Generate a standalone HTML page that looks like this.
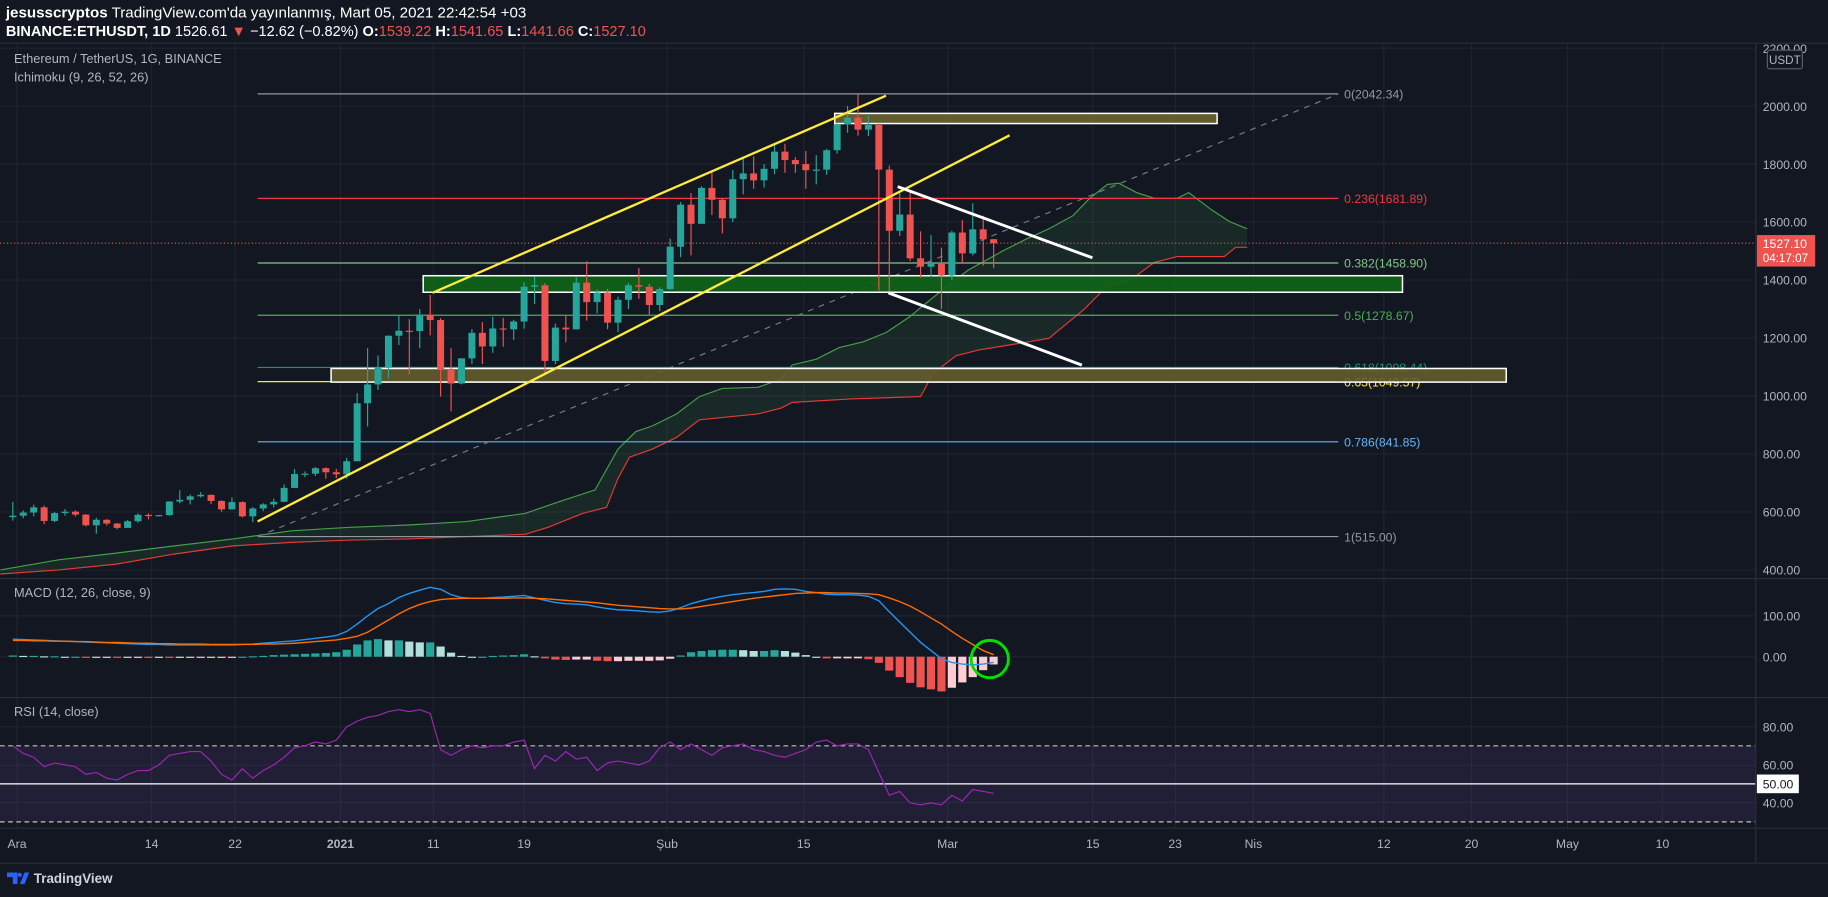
<!DOCTYPE html>
<html><head><meta charset="utf-8"><style>
html,body{margin:0;padding:0;background:#131722;overflow:hidden}
svg{display:block;font-family:"Liberation Sans",sans-serif}
</style></head><body>
<svg id="c" width="1828" height="897" viewBox="0 0 1568 769" preserveAspectRatio="none" xmlns="http://www.w3.org/2000/svg">
<rect x="0" y="0" width="1568" height="769" fill="#131722"/>
<text x="5" y="15" font-size="13" fill="#ffffff"><tspan font-weight="bold">jesusscryptos</tspan> TradingView.com'da yayınlanmış, Mart 05, 2021 22:42:54 +03</text>
<text x="5" y="31" font-size="12.5" fill="#ffffff"><tspan font-weight="bold">BINANCE:ETHUSDT, 1D</tspan> 1526.61 <tspan fill="#ef5350">▼</tspan> −12.62 (−0.82%) <tspan font-weight="bold">O:</tspan><tspan fill="#ef5350">1539.22</tspan> <tspan font-weight="bold">H:</tspan><tspan fill="#ef5350">1541.65</tspan> <tspan font-weight="bold">L:</tspan><tspan fill="#ef5350">1441.66</tspan> <tspan font-weight="bold">C:</tspan><tspan fill="#ef5350">1527.10</tspan></text>
<g id="grid"></g>
<g id="cloud"></g>
<g id="draw"></g>
<g id="candles"></g>
<g id="trend"></g>
<g id="macd"></g>
<g id="rsi"></g>
<g id="axes"></g>
<text x="12" y="54" font-size="11" fill="#b2b5be">Ethereum / TetherUS, 1G, BINANCE</text>
<text x="12" y="70" font-size="11" fill="#b2b5be">Ichimoku (9, 26, 52, 26)</text>
<text x="12" y="512" font-size="11" fill="#b2b5be">MACD (12, 26, close, 9)</text>
<text x="12" y="614" font-size="11" fill="#b2b5be">RSI (14, close)</text>
<g><path d="M6 748h9v10h-4v-6h-5z M17 758l4-10h4l-4 10z" fill="#2962ff"/><circle cx="17" cy="750" r="1.8" fill="#2962ff"/><text x="29" y="757" font-size="11.5" font-weight="bold" fill="#d1d4dc">TradingView</text></g>
</svg>
<script>
const closes=[587,598,616,569,596,601,591,554,573,560,545,568,590,586,589,636,642,654,659,638,609,634,585,612,626,635,683,731,732,751,737,
730,775,975,1040,1100,1208,1225,1224,1281,1262,1090,1043,1130,1218,1171,1233,1230,1257,1377,1382,1121,1236,1230,1391,1324,1357,1253,1332,1382,1377,1314,
1369,1515,1660,1594,1718,1677,1613,1748,1768,1744,1784,1843,1814,1800,1779,1781,1848,1937,1960,1919,1935,1781,1570,1626,1475,1446,1459,1416,
1564,1492,1575,1541,1527];
const highs=[635,605,625,622,600,610,605,592,580,575,562,572,595,595,590,637,675,660,668,660,640,650,637,617,630,646,695,748,740,755,754,
749,787,1010,1165,1140,1209,1279,1265,1300,1349,1269,1165,1130,1231,1255,1273,1270,1263,1393,1412,1390,1250,1277,1410,1465,1368,1370,1343,1390,1441,1387,
1375,1543,1669,1700,1724,1775,1683,1780,1826,1827,1800,1870,1870,1824,1845,1831,1853,1940,2001,2042,1966,1940,1795,1700,1710,1568,1555,1512,
1570,1607,1665,1622,1541];
const lows=[570,578,585,558,565,587,585,550,525,553,540,546,563,574,584,587,630,626,650,627,601,608,581,565,603,616,634,682,720,724,715,
716,715,777,895,1021,1060,1176,1075,1165,1209,998,947,1040,1110,1110,1149,1170,1193,1232,1317,1080,1110,1185,1230,1260,1285,1230,1220,1300,1335,1280,
1293,1367,1479,1485,1600,1624,1561,1600,1696,1715,1719,1765,1770,1770,1715,1730,1763,1836,1908,1898,1897,1364,1353,1552,1466,1408,1410,1300,
1400,1456,1485,1450,1441];
const spanADays=[-1.2,4.4,9.9,15.5,21.1,26.7,32.3,37.9,43.5,49.1,52.4,55.8,58,59.7,61.3,63.6,65.8,68,71.4,73.6,74.7,77,79.2,81.5,83.7,85.9,88.2,91.5,94.9,97.1,99.3,101.6,103.2,104.9,106,107.7,109.4,111.6,112.7,114.9,116.6,118.3];
const spanAVals=[400,435,458,483,507,535,547,555,567,595,636,676,817,877,897,938,998,1026,1030,1058,1107,1127,1167,1187,1219,1272,1340,1433,1501,1541,1577,1622,1682,1730,1734,1702,1682,1682,1702,1642,1602,1577];
const spanBDays=[-1.2,4.4,9.9,15.5,21.1,26.7,32.3,37.9,43.5,49.1,51.3,54.6,56.9,58,59.1,61.3,63.6,65.8,71.4,73.6,74.7,80.3,87,88.2,90.4,92.6,96,99.3,102.7,104.9,107.1,109.4,111.6,116.1,117.2,118.3];
const spanBVals=[386,400,420,455,483,495,503,507,515,523,547,595,616,716,789,817,857,918,938,958,978,990,998,1078,1139,1159,1179,1199,1300,1380,1400,1461,1481,1481,1513,1513];
const macdVals=[43,42,41,40,39,38,37,36,35,34,33,32,31,30,30,29,29,29,29,29,29,29,30,31,33,35,37,39,42,45,48,52,62,80,100,118,130,145,155,163,170,165,152,145,143,143,145,146,148,150,144,138,133,130,129,127,122,118,115,114,112,110,109,112,120,130,137,143,148,152,155,157,160,165,166,165,160,157,153,152,152,151,148,137,110,85,60,35,15,-5,-14,-18,-20,-18,-14];
const signalVals=[40,40,39,39,38,38,37,37,36,35,35,34,33,33,32,32,31,31,31,30,30,30,30,30,31,31,32,33,35,37,39,41,45,50,60,75,90,105,118,128,135,140,142,143,143,143,143,143,144,144,143,142,140,138,136,134,132,129,126,124,122,120,118,117,117,119,123,127,131,135,139,143,146,149,152,155,156,157,157,156,156,155,154,152,144,135,124,110,95,80,62,45,30,15,5];
const rsiVals=[70,66,64,59,61,60,59,55,56,53,52,55,57,57,60,65,66,67,67,62,55,52,58,53,57,60,64,69,70,72,71,73,80,83,85,86,88,89,88,89,87,68,65,68,70,69,70,70,72,73,58,65,62,67,63,64,57,61,62,61,60,62,69,72,68,71,68,65,69,70,71,68,67,65,64,66,68,72,73,70,71,71,68,56,44,46,40,39,40,39,44,41,47,46,45];
const priceTicks=[2000,1800,1600,1400,1200,1000,800,600,400];
const fibLevels=[["0(2042.34)",2042.34,"#9598a1"],["0.236(1681.89)",1681.89,"#f23645"],["0.382(1458.90)",1458.90,"#81c784"],["0.5(1278.67)",1278.67,"#4caf50"],["0.618(1098.44)",1098.44,"#089981"],["0.65(1049.57)",1049.57,"#ffeb3b"],["0.786(841.85)",841.85,"#64b5f6"],["1(515.00)",515,"#9598a1"]];
const timeLabels=[["Ara",0.4],["14",13.3],["22",21.3],["2021",31.4],["11",40.3],["19",49],["Şub",62.7],["15",75.8],["Mar",89.6],["15",103.5],["23",111.4],["Nis",118.9],["12",131.4],["20",139.8],["May",149],["10",158.1]];

const NS="http://www.w3.org/2000/svg";
const X=d=>11+d*8.95;
const Y=p=>91+(2000-p)*0.2485;
const MY=v=>563-v*0.35;
const RY=v=>672-(v-50)*1.63;
function mk(par,tag,at){const e=document.createElementNS(NS,tag);for(const k in at)e.setAttribute(k,at[k]);document.getElementById(par).appendChild(e);return e;}

timeLabels.forEach(t=>{const g=mk('grid','line',{x1:X(t[1]),x2:X(t[1]),y1:37,y2:710,stroke:'#1f2330','stroke-width':1});

});
priceTicks.concat([2200]).forEach(p=>{const g=mk('grid','line',{x1:0,x2:1506,y1:Y(p),y2:Y(p),stroke:'#1f2330'});

});
[528,563,623,656,688].forEach(y=>{const g=mk('grid','line',{x1:0,x2:1506,y1:y,y2:y,stroke:'#1f2330'});

});

const cloudTop=spanADays.map((d,i)=>X(d)+','+Y(spanAVals[i]));
const cloudBot=spanBDays.map((d,i)=>X(d)+','+Y(spanBVals[i]));
const cf=mk('cloud','polygon',{points:cloudTop.concat(cloudBot.slice().reverse()).join(' '),fill:'rgba(76,175,80,0.12)'});


const la=mk('cloud','polyline',{points:cloudTop.join(' '),fill:'none',stroke:'#43a047','stroke-width':1});


const lb=mk('cloud','polyline',{points:cloudBot.join(' '),fill:'none',stroke:'#e53935','stroke-width':1});



fibLevels.forEach(f=>{const y=Y(f[1]);
const l=mk('draw','line',{x1:221,x2:1148,y1:y,y2:y,stroke:f[2],'stroke-width':1});


const t=mk('draw','text',{x:1153,y:y+4,'font-size':10.5,fill:f[2],'text-anchor':'start'});t.textContent=f[0];

});
const dl=mk('draw','line',{x1:221,y1:Y(515),x2:1148,y2:Y(2042),stroke:'#787b86','stroke-dasharray':'5,5'});


[[716,1044,1975,1940,'rgba(110,100,45,0.9)'],[363,1203,1415,1358,'rgba(15,100,25,0.92)'],[284,1292,1095,1048,'rgba(100,92,45,0.9)']].forEach(b=>{
const r=mk('draw','rect',{x:b[0],y:Y(b[2]),width:b[1]-b[0],height:Y(b[3])-Y(b[2]),fill:b[4],stroke:'#ffffff','stroke-width':1.3});

});
const cp=mk('draw','line',{x1:0,x2:1506,y1:Y(1527.1),y2:Y(1527.1),stroke:'#ef5350','stroke-dasharray':'1,2'});



closes.forEach((c,i)=>{const o=i?closes[i-1]:c-5;const up=c>=o;const col=up?'#26a69a':'#ef5350';
const w=mk('candles','line',{x1:X(i),x2:X(i),y1:Y(highs[i]),y2:Y(lows[i]),stroke:col,'stroke-width':1});


const yt=Y(Math.max(o,c)),yb=Y(Math.min(o,c));
const b=mk('candles','rect',{x:X(i)-3,y:yt,width:6,height:Math.max(1,yb-yt),fill:col});

});

[[371,251,760,82,'#ffeb3b',2],[221,447,866,116,'#ffeb3b',2],[770,160,937,221,'#ffffff',2.5],[762,251,928,313,'#ffffff',2.5]].forEach(t=>{
const l=mk('trend','line',{x1:t[0],y1:t[1],x2:t[2],y2:t[3],stroke:t[4],'stroke-width':t[5]});

});

macdVals.forEach((m,i)=>{const h=m-signalVals[i];const prev=i?macdVals[i-1]-signalVals[i-1]:h;
const col=h>=0?(h>=prev?'#26a69a':'#b2dfdb'):(h<prev?'#ef5350':'#ffcdd2');
const y0=MY(0),y1=MY(h);
const r=mk('macd','rect',{x:X(i)-3.5,y:Math.min(y0,y1),width:7,height:Math.max(1,Math.abs(y1-y0)),fill:col});

});
const ml=mk('macd','polyline',{points:macdVals.map((v,i)=>X(i)+','+MY(v)).join(' '),fill:'none',stroke:'#2196f3','stroke-width':1.2});


const sl=mk('macd','polyline',{points:signalVals.map((v,i)=>X(i)+','+MY(v)).join(' '),fill:'none',stroke:'#ff6d00','stroke-width':1.2});


const ci=mk('macd','circle',{cx:849,cy:565,r:16,fill:'none',stroke:'#00e000','stroke-width':2.5});



const band=mk('rsi','rect',{x:0,y:RY(70),width:1506,height:RY(30)-RY(70),fill:'rgba(126,87,194,0.13)'});


[70,30].forEach(v=>{const l=mk('rsi','line',{x1:0,x2:1506,y1:RY(v),y2:RY(v),stroke:'#c0c0c0','stroke-dasharray':'4,3'});

});
const mid=mk('rsi','line',{x1:0,x2:1506,y1:RY(50),y2:RY(50),stroke:'#ffffff'});


const rl=mk('rsi','polyline',{points:rsiVals.map((v,i)=>X(i)+','+RY(v)).join(' '),fill:'none',stroke:'#9c27b0','stroke-width':1});



[[0,496,1568,496],[0,598,1568,598],[0,710,1568,710],[1506,37,1506,740],[0,37,1568,37],[0,740,1568,740]].forEach(s=>{
const l=mk('axes','line',{x1:s[0],y1:s[1],x2:s[2],y2:s[3],stroke:'#2a2e39'});

});
priceTicks.forEach(p=>{const t=mk('axes','text',{x:1512,y:Y(p)+4,'font-size':10.5,fill:'#b2b5be'});t.textContent=p.toFixed(2);

});
const t22=mk('axes','text',{x:1512,y:Y(2200)+4,'font-size':10.5,fill:'#b2b5be'});t22.textContent='2200.00';


const ub=mk('axes','rect',{x:1516,y:43,width:30,height:16,rx:2,fill:'#131722',stroke:'#5d606b'});


const ut=mk('axes','text',{x:1531,y:55,'font-size':10,fill:'#b2b5be','text-anchor':'middle'});ut.textContent='USDT';


[["100.00",100],["0.00",0]].forEach(m=>{const t=mk('axes','text',{x:1512,y:MY(m[1])+4,'font-size':10.5,fill:'#b2b5be'});t.textContent=m[0];

});
[["80.00",80],["60.00",60],["40.00",40]].forEach(m=>{const t=mk('axes','text',{x:1512,y:RY(m[1])+4,'font-size':10.5,fill:'#b2b5be'});t.textContent=m[0];

});
const r50=mk('axes','rect',{x:1507,y:RY(50)-8,width:36,height:16,fill:'#ffffff'});


const t50=mk('axes','text',{x:1512,y:RY(50)+4,'font-size':10.5,fill:'#131722'});t50.textContent='50.00';


const pb=mk('axes','rect',{x:1507,y:Y(1527.1)-7,width:50,height:27,fill:'#ef5350'});


const pt=mk('axes','text',{x:1512,y:Y(1527.1)+4,'font-size':10.5,fill:'#ffffff'});pt.textContent='1527.10';


const pc=mk('axes','text',{x:1512,y:Y(1527.1)+16,'font-size':10,fill:'#ffffff'});pc.textContent='04:17:07';


timeLabels.forEach(t=>{const e=mk('axes','text',{x:X(t[1]),y:727,'font-size':10.5,fill:'#b2b5be','text-anchor':'middle','font-weight':t[0]==='2021'?'bold':'normal'});e.textContent=t[0];

});
</script>
</body></html>
